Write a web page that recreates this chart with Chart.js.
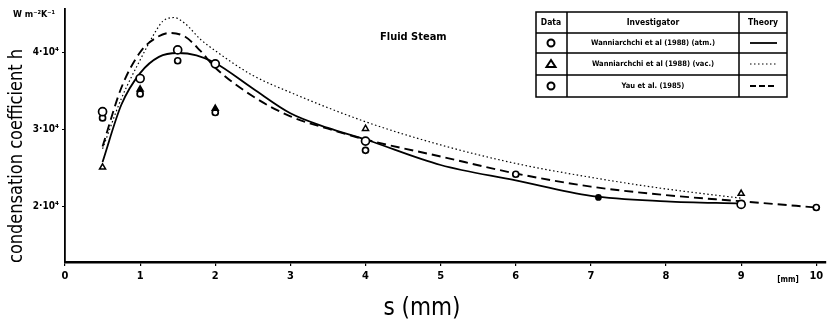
<!DOCTYPE html>
<html>
<head>
<meta charset="utf-8">
<script src="https://cdn.jsdelivr.net/npm/chart.js@4"></script>
<style>
  body { margin: 0; background: #fff; }
  canvas { display: block; }
</style>
</head>
<body>
<canvas id="grafico" width="831" height="329"></canvas>
<script>
// dados (s em mm, h em W m-2 K-1)
const sAtmPts = [0.5, 1, 1.5, 2, 4, 7.1, 9]; // Wanniarchchi atm - circulos
const hAtmPts = [32300, 36600, 40300, 38500, 28500, 21200, 20300];
const sVacPts = [0.5, 1, 2, 4, 9]; // Wanniarchchi vac - triangulos
const hVacPts = [25100, 35200, 32700, 30100, 21700];
const sYauPts = [0.5, 1, 1.5, 2, 4, 6, 10]; // Yau - circulos pequenos
const hYauPts = [31500, 34600, 38900, 32200, 27300, 24200, 19900];

// curvas teoricas
const sAtm = [0.5, 0.75, 1, 1.25, 1.5, 1.75, 2, 2.5, 3, 3.5, 4, 5, 6, 7, 8, 9];
const hAtm = [25800, 33200, 37300, 39400, 39900, 39600, 38600, 35300, 32100, 30200, 28700, 25400, 23400, 21400, 20700, 20400];
const sVac = [0.5, 0.75, 1, 1.2, 1.3, 1.45, 1.6, 1.8, 2, 2.5, 3, 4, 5, 6, 7, 8, 9];
const hVac = [27500, 34000, 39000, 42600, 44000, 44500, 43700, 41700, 40200, 37000, 34800, 31000, 28000, 25600, 23800, 22300, 21100];
const sYau = [0.5, 0.75, 1, 1.2, 1.4, 1.6, 1.8, 2, 2.5, 3, 3.5, 4, 5, 6, 7, 8, 9, 10];
const hYau = [27800, 35400, 40000, 41800, 42500, 42000, 40200, 38000, 34300, 31700, 30100, 28700, 26500, 24300, 22600, 21500, 20700, 19900];

const xTicks = [0, 1, 2, 3, 4, 5, 6, 7, 8, 9, 10];
const yTicks = [20000, 30000, 40000];
const yTickLabels = ['2·10⁴', '3·10⁴', '4·10⁴'];

const pares = (xs, ys) => xs.map((x, i) => ({ x: x, y: ys[i] }));

const fonteBold = '"DejaVu Sans Condensed", "DejaVu Sans", sans-serif';

// textos, tabela da legenda e titulos dos eixos
const textos = {
  id: 'textos',
  afterDraw(chart) {
    const c = chart.ctx;
    c.save();
    c.fillStyle = '#000';
    c.strokeStyle = '#000';

    // titulo eixo y
    c.save();
    c.translate(17, 156);
    c.rotate(-Math.PI / 2);
    c.textAlign = 'center';
    c.textBaseline = 'middle';
    c.font = '20px ' + fonteBold;
    c.fillText('condensation coefficient h', 0, 0, 214);
    c.restore();

    c.textBaseline = 'middle';
    c.font = 'bold 9px ' + fonteBold;
    c.textAlign = 'left';
    c.fillText('W m⁻²K⁻¹', 13, 15, 49);

    c.font = 'bold 11px ' + fonteBold;
    c.fillText('Fluid Steam', 380, 37, 83);

    c.textAlign = 'center';
    c.font = 'bold 8px ' + fonteBold;
    c.fillText('[mm]', 788, 280);

    c.font = '24px ' + fonteBold;
    c.fillText('s (mm)', 422, 309, 92);

    // tabela
    const cols = [536, 567, 739, 787];
    const rows = [12, 33, 53, 75, 97];
    c.lineWidth = 1.5;
    c.strokeRect(cols[0], rows[0], cols[3] - cols[0], rows[4] - rows[0]);
    c.beginPath();
    [cols[1], cols[2]].forEach(x => { c.moveTo(x, rows[0]); c.lineTo(x, rows[4]); });
    [rows[1], rows[2], rows[3]].forEach(y => { c.moveTo(cols[0], y); c.lineTo(cols[3], y); });
    c.stroke();

    c.font = 'bold 8.5px ' + fonteBold;
    c.fillText('Data', 551, 22.5, 28);
    c.fillText('Investigator', 653, 22.5);
    c.fillText('Theory', 763, 22.5, 44);

    const nomes = ['Wanniarchchi et al (1988) (atm.)', 'Wanniarchchi et al (1988) (vac.)', 'Yau et al. (1985)'];
    const meio = [43, 64, 86];
    c.font = 'bold 7.5px ' + fonteBold;
    nomes.forEach((n, i) => c.fillText(n, 653, meio[i], 150));

    c.lineWidth = 2;
    c.beginPath(); c.arc(551, meio[0], 3.5, 0, Math.PI * 2); c.stroke();
    c.beginPath(); c.arc(551, meio[2], 3.5, 0, Math.PI * 2); c.stroke();
    c.beginPath();
    c.moveTo(551, meio[1] - 4); c.lineTo(555.5, meio[1] + 3); c.lineTo(546.5, meio[1] + 3); c.closePath();
    c.stroke();

    const tracos = [[], [1.5, 2.5], [6, 3]];
    const larg = [1.8, 1.2, 1.8];
    tracos.forEach((d, i) => {
      c.setLineDash(d);
      c.lineWidth = larg[i];
      c.beginPath(); c.moveTo(750, meio[i]); c.lineTo(777, meio[i]); c.stroke();
    });
    c.restore();
  }
};

const ctx = document.getElementById('grafico').getContext('2d');

new Chart(ctx, {
  type: 'scatter',
  data: {
    datasets: [
      { label: 'atm dados', data: pares(sAtmPts, hAtmPts), pointStyle: 'circle', pointRadius: [4, 4, 4, 4, 4, 2.5, 4],
        borderColor: '#000', backgroundColor: ['#fff', '#fff', '#fff', '#fff', '#fff', '#000', '#fff'], borderWidth: 1.7 },
      { label: 'vac dados', data: pares(sVacPts, hVacPts), pointStyle: 'triangle', pointRadius: 3.5,
        borderColor: '#000', backgroundColor: ['#fff', '#000', '#000', '#fff', '#fff'], borderWidth: 1.5 },
      { label: 'Yau dados', data: pares(sYauPts, hYauPts), pointStyle: 'circle', pointRadius: 3,
        borderColor: '#000', backgroundColor: '#fff', borderWidth: 1.7 },
      { label: 'atm teoria', data: pares(sAtm, hAtm), showLine: true, pointRadius: 0,
        borderColor: '#000', borderWidth: 1.8, cubicInterpolationMode: 'monotone' },
      { label: 'vac teoria', data: pares(sVac, hVac), showLine: true, pointRadius: 0,
        borderColor: '#000', borderWidth: 1.2, borderDash: [1.5, 2.5], cubicInterpolationMode: 'monotone' },
      { label: 'Yau teoria', data: pares(sYau, hYau), showLine: true, pointRadius: 0,
        borderColor: '#000', borderWidth: 1.9, borderDash: [9, 5], cubicInterpolationMode: 'monotone' }
    ]
  },
  options: {
    responsive: false,
    animation: false,
    layout: { padding: { left: 0, right: 2, top: 8, bottom: 0 } },
    plugins: { legend: { display: false }, tooltip: { enabled: false } },
    scales: {
      x: {
        type: 'linear', min: 0, max: 10.12,
        afterFit: s => { s.height = 67; },
        afterBuildTicks: s => { s.ticks = xTicks.map(v => ({ value: v })); },
        grid: { display: true, drawOnChartArea: false, color: '#000', lineWidth: 1.2, tickLength: 4 },
        border: { display: true, color: '#000', width: 2.5 },
        ticks: { color: '#000', padding: 4, maxRotation: 0, font: { family: fonteBold, size: 11, weight: 'bold' } }
      },
      y: {
        type: 'linear', min: 12840, max: 45600,
        afterFit: s => { s.width = 65; },
        afterBuildTicks: s => { s.ticks = yTicks.map(v => ({ value: v })); },
        grid: { display: true, drawOnChartArea: false, color: '#000', lineWidth: 1, tickLength: 3 },
        border: { display: true, color: '#000', width: 1.8 },
        ticks: { color: '#000', padding: 3, callback: v => yTickLabels[yTicks.indexOf(v)],
                 font: { family: fonteBold, size: 10, weight: 'bold' } }
      }
    }
  },
  plugins: [textos]
});
</script>
</body>
</html>
